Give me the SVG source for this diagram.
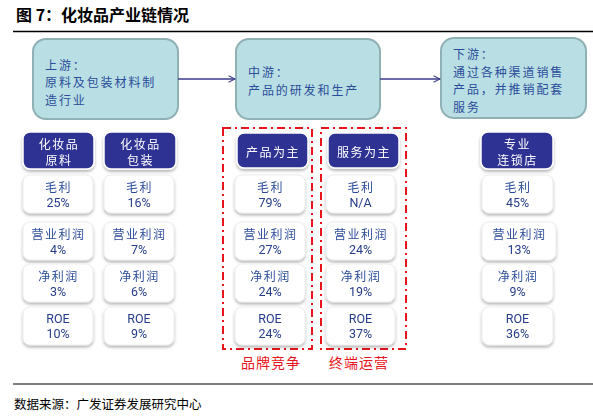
<svg xmlns="http://www.w3.org/2000/svg" width="593" height="418" viewBox="0 0 593 418">
<style>
.cjk{font-family:"Noto Sans CJK SC","Noto Sans",sans-serif}
.title{font-size:16px;font-weight:bold;fill:#000}
.top{fill:#b9dfe4;stroke:#8fb0b5;stroke-width:2}
.toptxt{font-size:12px;fill:#2b4c9a;letter-spacing:1.9px}
.hdr{fill:#2e3192;stroke:#fff;stroke-width:1.5}
.hdrtxt{font-size:12px;fill:#fff;letter-spacing:1.5px;text-anchor:middle}
.met{fill:#fff;stroke:#e8e8e8;stroke-width:0.8}
.lab{font-size:12px;fill:#2b4c9a;letter-spacing:1.5px;text-anchor:middle}
.num{font-family:Roboto,"Liberation Sans",sans-serif;font-size:12.5px;fill:#253d8a;text-anchor:middle}
.dash{fill:none;stroke:#e8141c;stroke-width:2;stroke-dasharray:8 4 2 4}
.red{font-size:14px;fill:#e8141c;letter-spacing:1px}
.conn{stroke:#3b3b8c;stroke-width:1.5;fill:none}
</style>
<defs>
<marker id="arr" viewBox="0 0 10 10" refX="9" refY="5" markerWidth="8" markerHeight="8" markerUnits="userSpaceOnUse" orient="auto">
<path d="M1,1 L9,5 L1,9" fill="none" stroke="#3b3b8c" stroke-width="1.3"/>
</marker>
<filter id="sh" x="-20%" y="-20%" width="140%" height="150%">
<feDropShadow dx="0" dy="2" stdDeviation="1.5" flood-color="#000" flood-opacity="0.3"/>
</filter>
</defs>
<rect width="593" height="418" fill="#fff"/>
<text class="cjk title" x="16" y="21">图 7：化妆品产业链情况</text>
<line x1="13" y1="31.5" x2="593" y2="31.5" stroke="#000" stroke-width="1.5"/>

<g id="upstream">
<rect class="top" x="33" y="39" width="145" height="80" rx="13"/>
<text class="cjk toptxt" x="45" y="69.5">上游：</text>
<text class="cjk toptxt" x="45" y="87">原料及包装材料制</text>
<text class="cjk toptxt" x="45" y="104.5">造行业</text>
</g>
<g id="midstream">
<rect class="top" x="236" y="39" width="144" height="80" rx="13"/>
<text class="cjk toptxt" x="248" y="77">中游：</text>
<text class="cjk toptxt" x="248" y="94.5">产品的研发和生产</text>
</g>
<g id="downstream">
<rect class="top" x="441" y="38" width="145" height="80" rx="13"/>
<text class="cjk toptxt" x="453" y="59">下游：</text>
<text class="cjk toptxt" x="453" y="76.5">通过各种渠道销售</text>
<text class="cjk toptxt" x="453" y="94">产品，并推销配套</text>
<text class="cjk toptxt" x="453" y="111.5">服务</text>
</g>

<g id="connectors">
<line class="conn" x1="178" y1="79" x2="235" y2="79" marker-end="url(#arr)"/>
<line class="conn" x1="380" y1="79" x2="440" y2="79" marker-end="url(#arr)"/>
</g>

<g id="brand-group">
<rect class="dash" x="223" y="128" width="89" height="221"/>
<text class="cjk red" x="241" y="368">品牌竞争</text>
</g>
<g id="terminal-group">
<rect class="dash" x="321" y="128" width="85" height="221"/>
<text class="cjk red" x="329" y="368">终端运营</text>
</g>

<g id="col-raw" filter="url(#sh)">
<rect class="hdr" x="23" y="132" width="71" height="37" rx="7"/>
<text class="cjk hdrtxt" x="59" y="149">化妆品</text>
<text class="cjk hdrtxt" x="59" y="165">原料</text>
<rect class="met" x="23" y="175" width="70" height="38" rx="7"/>
<text class="cjk lab" x="58.5" y="192">毛利</text>
<text class="num" x="58" y="207">25%</text>
<rect class="met" x="23" y="222" width="70" height="38" rx="7"/>
<text class="cjk lab" x="58.5" y="239">营业利润</text>
<text class="num" x="58" y="254">4%</text>
<rect class="met" x="23" y="264" width="70" height="38" rx="7"/>
<text class="cjk lab" x="58.5" y="281">净利润</text>
<text class="num" x="58" y="296">3%</text>
<rect class="met" x="23" y="307" width="70" height="38" rx="7"/>
<text class="num" x="58" y="323">ROE</text>
<text class="num" x="58" y="338">10%</text>
</g>

<g id="col-pack" filter="url(#sh)">
<rect class="hdr" x="104" y="132" width="72" height="37" rx="7"/>
<text class="cjk hdrtxt" x="140.5" y="149">化妆品</text>
<text class="cjk hdrtxt" x="140.5" y="165">包装</text>
<rect class="met" x="104" y="175" width="70" height="38" rx="7"/>
<text class="cjk lab" x="139.5" y="192">毛利</text>
<text class="num" x="139" y="207">16%</text>
<rect class="met" x="104" y="222" width="70" height="38" rx="7"/>
<text class="cjk lab" x="139.5" y="239">营业利润</text>
<text class="num" x="139" y="254">7%</text>
<rect class="met" x="104" y="264" width="70" height="38" rx="7"/>
<text class="cjk lab" x="139.5" y="281">净利润</text>
<text class="num" x="139" y="296">6%</text>
<rect class="met" x="104" y="307" width="70" height="38" rx="7"/>
<text class="num" x="139" y="323">ROE</text>
<text class="num" x="139" y="338">9%</text>
</g>

<g id="col-product" filter="url(#sh)">
<rect class="hdr" x="237" y="133" width="71" height="35" rx="7"/>
<text class="cjk hdrtxt" x="273" y="157">产品为主</text>
<rect class="met" x="235" y="175" width="70" height="38" rx="7"/>
<text class="cjk lab" x="270.5" y="192">毛利</text>
<text class="num" x="270" y="207">79%</text>
<rect class="met" x="235" y="222" width="70" height="38" rx="7"/>
<text class="cjk lab" x="270.5" y="239">营业利润</text>
<text class="num" x="270" y="254">27%</text>
<rect class="met" x="235" y="264" width="70" height="38" rx="7"/>
<text class="cjk lab" x="270.5" y="281">净利润</text>
<text class="num" x="270" y="296">24%</text>
<rect class="met" x="235" y="307" width="70" height="38" rx="7"/>
<text class="num" x="270" y="323">ROE</text>
<text class="num" x="270" y="338">24%</text>
</g>

<g id="col-service" filter="url(#sh)">
<rect class="hdr" x="328" y="133" width="71" height="35" rx="7"/>
<text class="cjk hdrtxt" x="364" y="157">服务为主</text>
<rect class="met" x="326" y="175" width="69" height="38" rx="7"/>
<text class="cjk lab" x="361" y="192">毛利</text>
<text class="num" x="360.5" y="207">N/A</text>
<rect class="met" x="326" y="222" width="69" height="38" rx="7"/>
<text class="cjk lab" x="361" y="239">营业利润</text>
<text class="num" x="360.5" y="254">24%</text>
<rect class="met" x="326" y="264" width="69" height="38" rx="7"/>
<text class="cjk lab" x="361" y="281">净利润</text>
<text class="num" x="360.5" y="296">19%</text>
<rect class="met" x="326" y="307" width="69" height="38" rx="7"/>
<text class="num" x="360.5" y="323">ROE</text>
<text class="num" x="360.5" y="338">37%</text>
</g>

<g id="col-chain" filter="url(#sh)">
<rect class="hdr" x="481" y="132" width="72" height="37" rx="7"/>
<text class="cjk hdrtxt" x="517.5" y="149">专业</text>
<text class="cjk hdrtxt" x="517.5" y="165">连锁店</text>
<rect class="met" x="482" y="175" width="71" height="38" rx="7"/>
<text class="cjk lab" x="518" y="192">毛利</text>
<text class="num" x="517.5" y="207">45%</text>
<rect class="met" x="482" y="222" width="74" height="38" rx="7"/>
<text class="cjk lab" x="519.5" y="239">营业利润</text>
<text class="num" x="519" y="254">13%</text>
<rect class="met" x="482" y="264" width="71" height="38" rx="7"/>
<text class="cjk lab" x="518" y="281">净利润</text>
<text class="num" x="517.5" y="296">9%</text>
<rect class="met" x="482" y="307" width="71" height="38" rx="7"/>
<text class="num" x="517.5" y="323">ROE</text>
<text class="num" x="517.5" y="338">36%</text>
</g>

<line x1="13" y1="384" x2="593" y2="384" stroke="#000" stroke-width="1.2"/>
<text class="cjk" x="14" y="409" font-size="12.5px" fill="#000">数据来源：广发证券发展研究中心</text>
</svg>
